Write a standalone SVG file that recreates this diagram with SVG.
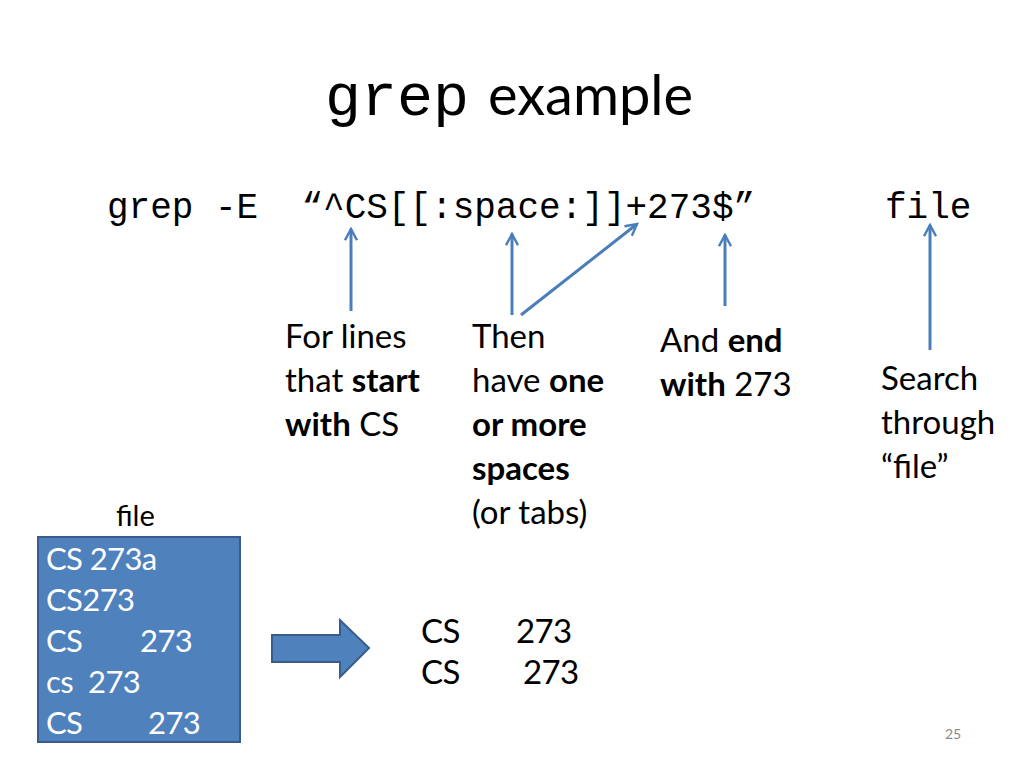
<svg xmlns="http://www.w3.org/2000/svg" width="1024" height="768" viewBox="0 0 1024 768">
<style>
.mono{font-family:"Liberation Mono","DejaVu Sans Mono",monospace;fill:#000}
.sans{font-family:Lato,"Open Sans","Liberation Sans",sans-serif;fill:#000;font-size:33px}
.b{font-weight:bold}
.w{fill:#fff;font-size:31px;letter-spacing:-0.6px}
.o{letter-spacing:-0.6px}
.conn{stroke:#4A7EBB;stroke-width:3;fill:none;marker-end:url(#ah)}
</style>
<defs>
<marker id="ah" viewBox="0 0 10 10" refX="8.5" refY="5" markerWidth="5" markerHeight="5" orient="auto" markerUnits="strokeWidth">
<path d="M1,1 L8.5,5 L1,9" fill="none" stroke="#4A7EBB" stroke-width="1.6"/>
</marker>
</defs>
<rect width="1024" height="768" fill="#fff"/>
<g id="title">
<text class="mono" x="325" y="115" style="font-size:60px">grep</text>
<text class="sans" x="488" y="115" style="font-size:56px">example</text>
</g>
<g id="command">
<text class="mono" x="107" y="218" style="font-size:36px" xml:space="preserve">grep -E  “^CS[[:space:]]+273$”</text>
<text class="mono" x="885" y="218" style="font-size:36px">file</text>
</g>
<g id="connectors">
<line class="conn" x1="351" y1="311" x2="351" y2="229"/>
<line class="conn" x1="512" y1="315" x2="512" y2="234"/>
<line class="conn" x1="521" y1="315" x2="637" y2="224"/>
<line class="conn" x1="725" y1="306" x2="725" y2="235"/>
<line class="conn" x1="930" y1="350" x2="930" y2="225"/>
</g>
<g id="label-start">
<text class="sans" x="285" y="348">For lines</text>
<text class="sans" x="285" y="392">that <tspan class="b">start</tspan></text>
<text class="sans" x="285" y="436"><tspan class="b">with</tspan> CS</text>
</g>
<g id="label-spaces">
<text class="sans" x="472" y="348">Then</text>
<text class="sans" x="472" y="392">have <tspan class="b">one</tspan></text>
<text class="sans b" x="472" y="436">or more</text>
<text class="sans b" x="472" y="480">spaces</text>
<text class="sans" x="472" y="524">(or tabs)</text>
</g>
<g id="label-end">
<text class="sans" x="660" y="352">And <tspan class="b">end</tspan></text>
<text class="sans" x="660" y="396"><tspan class="b">with</tspan> 273</text>
</g>
<g id="label-file">
<text class="sans" x="881" y="390">Search</text>
<text class="sans" x="881" y="434">through</text>
<text class="sans" x="881" y="478">“file”</text>
</g>
<g id="file-box">
<text class="sans" x="116" y="526" style="font-size:29px">file</text>
<rect x="38" y="537" width="202" height="205" fill="#4F81BD" stroke="#385D8A" stroke-width="2"/>
<text class="sans w" x="46" y="570">CS 273a</text>
<text class="sans w" x="46" y="611">CS273</text>
<text class="sans w" x="46" y="652">CS</text><text class="sans w" x="140" y="652">273</text>
<text class="sans w" x="46" y="693">cs</text><text class="sans w" x="88" y="693">273</text>
<text class="sans w" x="46" y="734">CS</text><text class="sans w" x="148" y="734">273</text>
</g>
<g id="block-arrow">
<path d="M272,635 L340,635 L340,620 L369,648 L340,677 L340,662 L272,662 Z" fill="#4F81BD" stroke="#385D8A" stroke-width="2"/>
</g>
<g id="output">
<text class="sans o" x="421" y="643">CS</text><text class="sans o" x="516" y="643">273</text>
<text class="sans o" x="421" y="684">CS</text><text class="sans o" x="523" y="684">273</text>
</g>
<g id="page-number">
<text x="945" y="739" font-family="Lato,'Liberation Sans',sans-serif" font-size="14" fill="#8B8B8B">25</text>
</g>
</svg>
